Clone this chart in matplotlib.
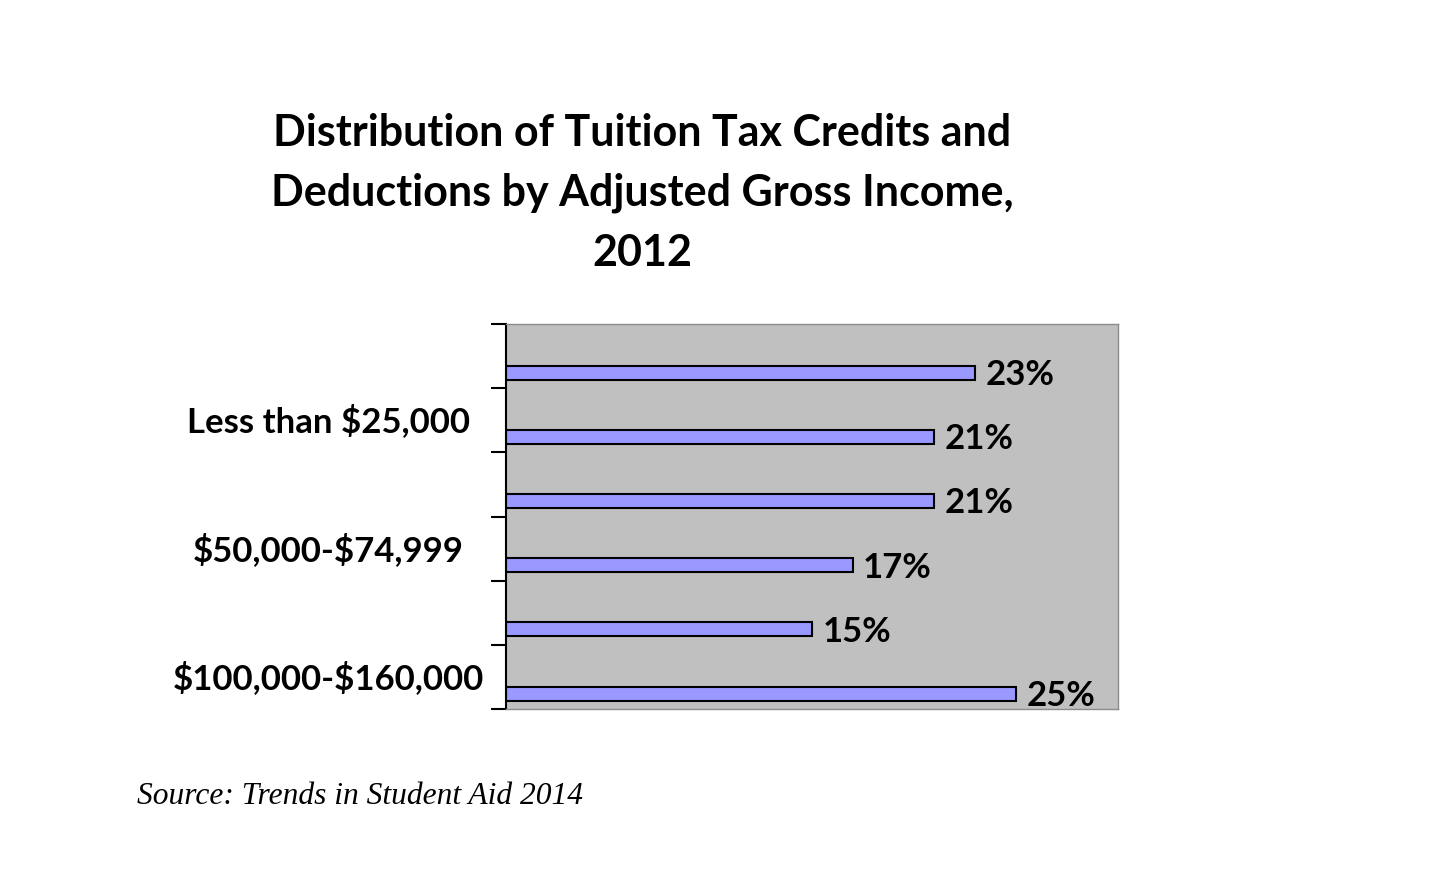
import matplotlib.pyplot as plt

plt.rcParams["text.parse_math"] = False

# categories top to bottom, only every other one carries a label
categorias = ["", "Less than $25,000", "", "$50,000-$74,999", "", "$100,000-$160,000"]
valores = [23, 21, 21, 17, 15, 25]
rotulos = ["23%", "21%", "21%", "17%", "15%", "25%"]

fig = plt.figure(figsize=(14.32, 8.7), dpi=100)
# plot area in pixels: x 506-1118, y 325-710
ax = fig.add_axes([506/1432, 1 - 710/870, (1118-506)/1432, (710-325)/870])
ax.set_facecolor("#C0C0C0")

n = len(valores)
pos = [i + 0.26 for i in range(n)]
ax.barh(pos, valores, height=0.22, color="#9999FF", edgecolor="black", linewidth=1.5)

ax.set_xlim(0, 30)
ax.set_ylim(n - 0.5, -0.5)
ax.set_xticks([])
ax.set_yticks([i - 0.5 for i in range(n + 1)])
ax.set_yticklabels([])
ax.tick_params(axis="y", direction="out", length=11, width=1.5, color="black")

for s in ["top", "right", "bottom"]:
    ax.spines[s].set_color("#8C8C8C")
    ax.spines[s].set_linewidth(1)
ax.spines["left"].set_color("black")
ax.spines["left"].set_linewidth(1.5)

fonte = "Lato"
for p, v, r in zip(pos, valores, rotulos):
    ax.text(v + 0.5, p + 0.02, r, va="center", ha="left", fontsize=25,
            fontweight="bold", family=fonte)

# category labels, centred to the left of the axis
for i, c in enumerate(categorias):
    if c:
        ax.text(-8.7, i, c, va="center", ha="center", fontsize=25,
                fontweight="bold", family=fonte)

fig.text(642/1432, 1 - 193/870,
         "Distribution of Tuition Tax Credits and\nDeductions by Adjusted Gross Income,\n2012",
         ha="center", va="center", fontsize=31, fontweight="bold", family=fonte,
         linespacing=1.6)

fig.text(137/1432, 1 - 797/870, "Source: Trends in Student Aid 2014",
         ha="left", va="center", fontsize=22.7, style="italic", family="Liberation Serif")

fig.savefig("out.png", dpi=100)
